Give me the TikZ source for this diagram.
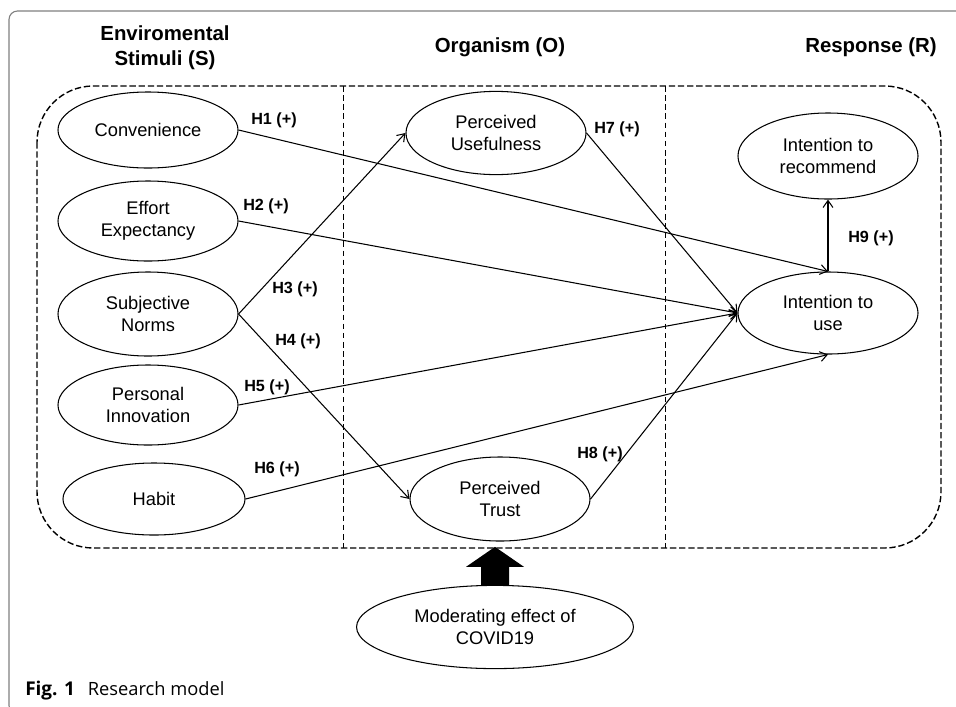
\documentclass[tikz,border=0pt]{standalone}
\usepackage{fontspec}
\setmainfont{Liberation Sans}
\newfontfamily\captionfont{Open Sans}
\usepackage{tikz}
\usetikzlibrary{calc, arrows.meta, positioning, shapes.geometric}
\tikzset{
  construct/.style={ellipse,draw,line width=0.75pt,inner sep=0pt,minimum width=4.5cm,minimum height=2cm,align=center,font=\fontsize{13}{15.5}\selectfont},
  hyp/.style={-{Straight Barb[length=5pt,width=7pt]}, line width=0.75pt},
  hlabel/.style={inner sep=0pt,font=\fontsize{11.5}{13}\selectfont\bfseries},
  stage/.style={align=center,inner sep=0pt,font=\fontsize{14.5}{17.5}\selectfont\bfseries},
  divider/.style={dash pattern=on 4pt off 2.5pt, line width=0.6pt}
}

\begin{document}
\begin{tikzpicture}[x=0.025cm, y=-0.025cm]
  \useasboundingbox (0,0) rectangle (956,706);
  \clip (0,0) rectangle (956,706);
  % figure frame and S-O-R panel
  \draw[gray, line width=0.8pt, rounded corners=6pt] (9,11) rectangle (990,714);
  \draw[dash pattern=on 4.5pt off 2pt, line width=1pt, rounded corners=40pt] (37,86) rectangle (941,548);
  \draw[divider] (343,86) -- (343,548);
  \draw[divider] (665,86) -- (665,548);
  \node[stage] (stimuli) at (165,48) {Enviromental\\Stimuli (S)};
  \node[stage] (organism) at (500,47) {Organism (O)};
  \node[stage] (response) at (871,47) {Response (R)};
  % constructs
  \node[construct, minimum height=1.9cm] (conv) at (148,130) {Convenience};
  \node[construct] (effort) at (148,221) {Effort\\Expectancy};
  \node[construct, minimum height=2.1cm] (norms) at (148,314) {Subjective\\Norms};
  \node[construct] (innov) at (148,405) {Personal\\Innovation};
  \node[construct, minimum width=4.55cm, minimum height=1.8cm] (habit) at (154,499) {Habit};
  \node[construct, minimum height=2.08cm] (useful) at (496,133) {Perceived\\Usefulness};
  \node[construct, minimum height=2.1cm] (trust) at (500,499) {Perceived\\Trust};
  \node[construct, minimum height=2.15cm] (recommend) at (828,156) {Intention to\\recommend};
  \node[construct, minimum height=2.05cm] (use) at (828,313) {Intention to\\use};
  \node[construct, minimum width=6.92cm, minimum height=2.08cm] (covid) at (495,627) {Moderating effect of\\COVID19};
  % hypotheses
  \draw[hyp] (conv.east) -- (use.north);
  \draw[hyp] (effort.east) -- (use.west);
  \draw[hyp] (norms.east) -- (useful.west);
  \draw[hyp] (norms.east) -- (trust.west);
  \draw[hyp] (innov.east) -- (use.west);
  \draw[hyp] (habit.east) -- (use.south);
  \draw[hyp] (useful.east) -- (use.west);
  \draw[hyp] (trust.east) -- (use.west);
  \draw[hyp] (use.north) -- (recommend.south);
  \node[hlabel] (h1) at (274,120) {H1 (+)};
  \node[hlabel] (h2) at (266,206) {H2 (+)};
  \node[hlabel] (h3) at (295,289) {H3 (+)};
  \node[hlabel] (h4) at (298,341) {H4 (+)};
  \node[hlabel] (h5) at (267,387) {H5 (+)};
  \node[hlabel] (h6) at (277,469) {H6 (+)};
  \node[hlabel] (h7) at (617,129) {H7 (+)};
  \node[hlabel] (h8) at (600,454) {H8 (+)};
  \node[hlabel] (h9) at (871,238) {H9 (+)};
  % moderator
  \fill ($(covid.north)+(-14,0)$) -- ++(0,-18) -- ++(-15,0) -- ($(covid.north)+(0,-38)$)
    -- ($(covid.north)+(29,-18)$) -- ++(-15,0) -- ($(covid.north)+(14,0)$) -- cycle;
  \node[anchor=base west, inner sep=0pt, font=\captionfont\fontsize{13}{16}\selectfont] (caption) at (25,695) {\textbf{\fontsize{13.5}{16}\selectfont Fig. 1}\hspace{0.7em}Research model};
\end{tikzpicture}
\end{document}
